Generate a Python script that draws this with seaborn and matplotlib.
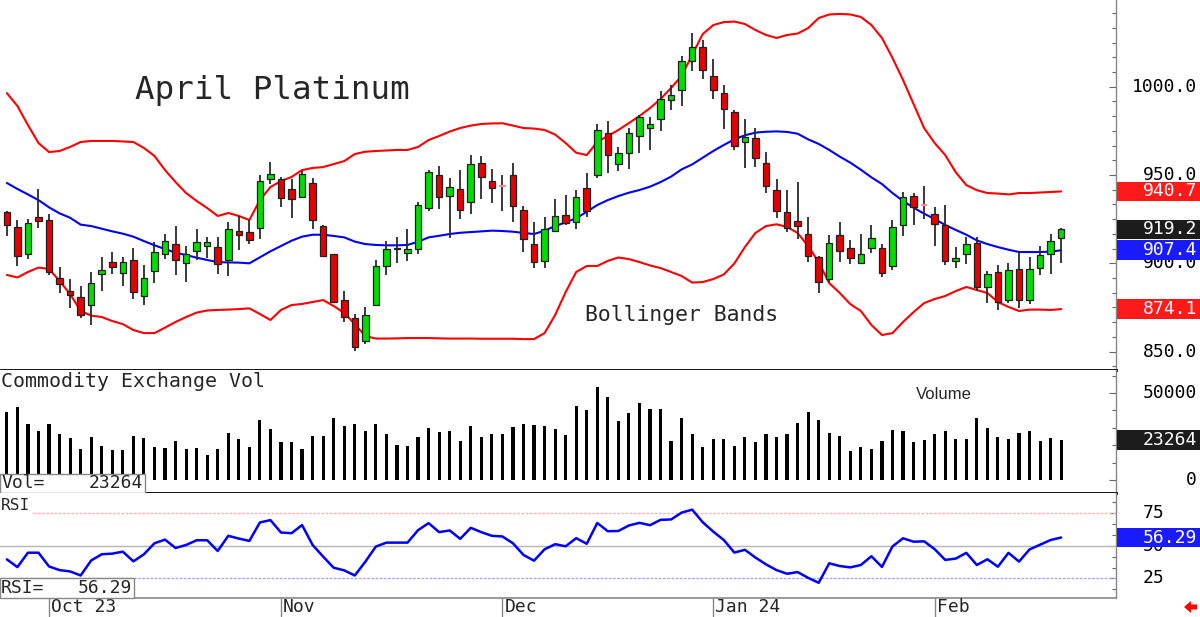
import numpy as np
import matplotlib
matplotlib.use('Agg')
import matplotlib.pyplot as plt
import seaborn as sns
from matplotlib.patches import Rectangle
from matplotlib.ticker import MultipleLocator, FixedLocator

# daily OHLC, April Platinum (Sep 25 2023 .. Feb 2024)
open_ = [929.2, 920.3, 905.4, 926.2, 924.3, 891.8, 884.1, 880.7, 876.2, 893.9,
         900.9, 894.3, 901.9, 881.7, 895.8, 905.2, 910.9, 900.0, 906.8, 910.0,
         909.2, 901.7, 918.5, 917.5, 919.8, 947.7, 947.5, 941.9, 937.3, 945.5,
         920.9, 905.1, 879.0, 868.8, 855.8, 876.4, 898.7, 908.0, 905.6, 908.3,
         931.5, 949.8, 937.9, 941.9, 934.5, 956.6, 946.4, 943.8, 949.8, 930.4,
         910.8, 901.3, 918.1, 927.2, 923.4, 942.5, 950.2, 973.6, 956.0, 962.7,
         971.9, 976.6, 981.5, 992.3, 998.1, 1014.4, 1022.3, 1006.0, 996.6, 985.8,
         968.5, 970.8, 956.6, 941.5, 928.9, 924.0, 916.4, 903.8, 890.9, 916.0,
         908.9, 900.0, 908.5, 908.5, 898.5, 921.5, 938.3, 933.0, 927.9, 921.7,
         901.3, 905.5, 911.7, 886.8, 894.9, 879.2, 896.6, 879.2, 897.5, 905.3,
         914.3]
high = [929.6, 924.5, 925.1, 942.1, 927.9, 897.9, 890.9, 887.1, 895.1, 903.7,
        906.2, 903.4, 908.8, 899.2, 912.0, 916.4, 921.3, 909.8, 919.4, 914.7,
        914.7, 923.2, 926.8, 924.7, 950.2, 957.2, 949.0, 947.9, 952.1, 948.5,
        921.7, 905.2, 884.3, 871.3, 875.4, 901.9, 912.6, 914.9, 919.2, 934.9,
        952.9, 955.1, 948.5, 952.9, 961.1, 960.8, 953.2, 949.8, 956.6, 932.6,
        923.6, 926.2, 936.4, 938.7, 941.5, 951.1, 979.1, 980.8, 966.0, 976.4,
        984.2, 983.0, 997.7, 1001.2, 1017.6, 1030.6, 1026.5, 1015.5, 1001.0, 986.8,
        981.5, 976.4, 963.2, 947.5, 941.5, 946.2, 926.4, 904.1, 916.0, 923.6,
        913.2, 916.6, 921.7, 910.9, 924.5, 940.6, 939.6, 943.8, 932.1, 933.0,
        909.4, 915.1, 914.7, 895.8, 899.0, 900.0, 906.6, 903.4, 910.0, 916.6,
        919.8]
low = [915.6, 898.6, 902.4, 919.8, 893.4, 883.4, 874.5, 868.8, 864.9, 884.5,
       893.7, 887.3, 879.6, 876.4, 888.6, 902.2, 893.4, 889.6, 901.7, 902.8,
       894.1, 892.8, 907.3, 911.1, 913.9, 944.7, 931.9, 925.8, 936.8, 919.6,
       903.7, 877.5, 866.6, 850.3, 854.1, 875.8, 893.6, 900.4, 901.5, 905.3,
       929.4, 930.9, 914.5, 924.9, 927.7, 936.4, 934.2, 929.8, 923.6, 906.6,
       897.5, 897.2, 917.7, 921.5, 919.6, 926.4, 948.3, 951.1, 952.5, 953.6,
       962.3, 964.0, 975.1, 987.0, 989.3, 1008.9, 1004.4, 992.9, 975.9, 964.2,
       953.8, 954.7, 940.0, 925.5, 917.9, 913.6, 900.9, 883.0, 889.6, 900.9,
       899.6, 900.0, 906.0, 892.1, 896.2, 915.7, 921.7, 924.9, 910.0, 899.0,
       897.1, 899.6, 884.3, 877.3, 873.6, 877.7, 874.5, 876.8, 893.4, 894.0,
       900.4]
close = [921.5, 904.3, 922.6, 923.7, 894.9, 888.1, 882.2, 870.5, 889.0, 896.4,
         898.1, 900.5, 883.9, 891.8, 906.4, 912.4, 901.7, 905.1, 911.9, 911.9,
         899.6, 919.2, 915.8, 913.0, 946.4, 950.5, 936.8, 936.6, 950.4, 924.3,
         904.3, 878.1, 869.8, 852.6, 870.7, 898.7, 907.9, 908.4, 907.9, 933.0,
         951.5, 937.5, 943.2, 930.2, 956.4, 948.7, 942.5, 943.8, 932.6, 914.0,
         901.0, 919.4, 926.6, 923.0, 937.4, 929.4, 975.3, 961.1, 962.5, 974.0,
         982.7, 978.7, 993.2, 995.1, 1014.6, 1022.7, 1009.3, 998.1, 987.5, 966.4,
         971.3, 959.4, 943.8, 929.6, 919.8, 921.1, 904.1, 889.6, 911.3, 907.2,
         902.8, 905.1, 914.1, 894.3, 920.7, 937.7, 931.7, 933.0, 922.3, 901.3,
         902.8, 910.7, 886.4, 893.9, 878.3, 896.2, 879.2, 896.6, 904.5, 912.8,
         919.2]

# Bollinger bands as plotted
upper = [996.4, 989.1, 978.3, 968.1, 963.0, 963.6, 965.9, 968.7, 969.3, 969.3,
         969.3, 969.0, 968.7, 965.3, 960.8, 952.8, 946.0, 939.8, 935.3, 931.3,
         926.8, 928.5, 926.8, 924.5, 935.8, 943.2, 946.6, 948.9, 952.8, 954.0,
         954.5, 956.2, 957.9, 961.9, 963.2, 963.6, 963.9, 964.2, 964.2, 965.9,
         969.8, 972.1, 974.6, 976.6, 978.0, 978.9, 979.2, 979.3, 978.0, 976.6,
         976.3, 975.5, 972.9, 968.1, 962.6, 961.3, 968.7, 972.1, 975.5, 979.4,
         983.4, 987.9, 993.0, 999.3, 1006.1, 1018.0, 1029.8, 1034.9, 1036.6, 1036.9,
         1035.5, 1032.1, 1029.3, 1027.6, 1029.3, 1030.1, 1033.2, 1038.9, 1040.9, 1041.2,
         1040.9, 1039.5, 1034.9, 1027.6, 1016.3, 1003.8, 990.2, 976.6, 968.1, 961.3,
         951.6, 944.3, 941.4, 939.8, 939.5, 939.0, 939.8, 939.8, 940.1, 940.4,
         940.7]
middle = [945.5, 942.1, 939.0, 935.8, 931.7, 928.3, 925.8, 921.9, 921.1, 919.6,
          918.1, 916.8, 915.1, 912.6, 910.2, 908.1, 906.0, 904.7, 903.2, 901.9,
          900.7, 900.5, 900.4, 900.0, 903.4, 906.8, 909.8, 912.8, 915.1, 916.2,
          916.2, 915.5, 914.7, 912.3, 910.9, 910.4, 910.2, 910.2, 910.4, 912.2,
          914.7, 915.6, 916.6, 917.3, 917.7, 918.1, 918.5, 918.3, 917.9, 917.2,
          916.6, 918.5, 921.1, 923.2, 925.5, 929.2, 933.0, 935.8, 938.1, 940.0,
          941.5, 943.4, 946.0, 949.1, 953.2, 956.0, 959.8, 963.6, 967.0, 970.2,
          972.5, 974.0, 974.5, 974.7, 974.4, 973.4, 970.2, 967.6, 964.2, 960.4,
          957.0, 953.0, 948.7, 944.9, 939.8, 935.3, 931.5, 928.1, 925.1, 921.7,
          918.9, 916.2, 913.0, 910.9, 909.2, 907.7, 906.4, 906.4, 906.4, 906.6,
          907.4]
lower = [893.4, 892.0, 895.1, 897.6, 896.8, 890.0, 882.6, 873.0, 870.4, 869.6,
         867.3, 865.6, 862.2, 860.5, 860.5, 863.6, 866.8, 869.6, 872.1, 873.3,
         873.6, 873.8, 874.1, 874.5, 871.3, 867.9, 873.6, 876.4, 877.0, 878.1,
         879.2, 875.8, 871.9, 865.6, 858.8, 857.4, 857.4, 857.5, 857.7, 857.7,
         857.7, 857.5, 857.4, 857.4, 857.4, 857.3, 857.3, 857.3, 857.3, 857.1,
         857.1, 860.5, 870.7, 883.7, 895.1, 898.5, 898.5, 901.4, 903.3, 902.4,
         900.7, 898.8, 897.3, 895.1, 892.8, 889.1, 889.4, 891.1, 893.7, 899.9,
         909.2, 917.2, 921.1, 922.1, 920.6, 917.2, 909.8, 900.7, 888.8, 883.2,
         876.9, 873.0, 865.1, 859.4, 860.5, 866.8, 872.4, 877.5, 879.8, 881.5,
         884.3, 886.6, 884.9, 883.2, 878.1, 875.3, 873.0, 873.8, 873.8, 873.6,
         874.1]

volume = [39230, 41660, 32320, 28210, 32320, 26150, 24100, 17930, 24660, 19610,
          17370, 17370, 25220, 24280, 18680, 18120, 22420, 17930, 18120, 14570,
          17750, 26900, 23720, 18680, 34560, 29140, 21860, 21860, 17750, 25220,
          25220, 35490, 31010, 32320, 28210, 32320, 26530, 20170, 19610, 24660,
          30070, 27650, 28210, 22420, 31010, 24660, 26710, 26530, 30450, 31940,
          31380, 31010, 29510, 25590, 42780, 40000, 53500, 47880, 33780, 38420,
          44020, 40730, 40730, 22390, 35520, 26250, 18730, 23360, 23360, 19690,
          24900, 21620, 26640, 24900, 26250, 32820, 38800, 34750, 26830, 25290,
          16410, 19110, 17760, 22390, 28960, 27990, 21620, 22970, 26250, 27990,
          23360, 23360, 35710, 29920, 24900, 23360, 27220, 27990, 22390, 24320,
          23264]

rsi = [39.6, 33.7, 44.7, 44.7, 34.2, 31.4, 30.4, 27.3, 38.8, 43.5,
       44.0, 45.5, 38.1, 43.5, 51.9, 54.7, 48.3, 50.6, 54.2, 54.2,
       46.0, 57.6, 55.5, 53.7, 67.8, 69.6, 60.1, 59.6, 65.8, 50.6,
       41.7, 33.2, 31.2, 27.3, 37.8, 49.4, 52.4, 52.4, 52.4, 61.9,
       67.3, 60.4, 61.7, 55.3, 63.7, 60.4, 57.6, 57.1, 51.9, 43.0,
       38.6, 47.3, 51.2, 49.6, 55.8, 51.5, 67.4, 61.1, 61.3, 65.5,
       67.5, 65.7, 69.8, 70.1, 75.3, 77.6, 68.0, 60.8, 54.4, 44.8,
       46.9, 41.0, 35.8, 31.4, 28.6, 29.9, 25.5, 21.7, 36.6, 34.5,
       33.5, 35.3, 42.0, 33.8, 49.5, 55.7, 53.1, 53.4, 47.4, 39.2,
       40.2, 44.6, 35.3, 39.7, 34.0, 44.6, 37.9, 47.2, 50.8, 54.4,
       56.29]

month_pos = [4, 26, 47, 67, 88]
month_labels = ['Oct 23', 'Nov', 'Dec', 'Jan 24', 'Feb']

sns.set_theme(style='white')
plt.rcParams['font.family'] = ['DejaVu Sans Mono', 'DejaVu Sans']

W, H = 1200, 617
AXW = 1116
fig = plt.figure(figsize=(12, 6.17), dpi=100)


def px_axes(top, bottom):
    return fig.add_axes([0, 1 - bottom / H, AXW / W, (bottom - top) / H])


ax_p = px_axes(0, 370)
ax_v = px_axes(370, 493)
ax_r = px_axes(493, 598)

idx = np.arange(len(close))
o, h, l, c = (np.array(a) for a in (open_, high, low, close))
up = c > o
dn = c < o
dj = c == o

# candles
ax_p.vlines(idx, l, h, color='#2a2a2a', lw=1.3, zorder=2)
ax_p.bar(idx[up], (c - o)[up], bottom=o[up], width=0.62, color='#00dd00',
         edgecolor='#202020', lw=0.9, zorder=3)
ax_p.bar(idx[dn], (o - c)[dn], bottom=c[dn], width=0.62, color='#e60000',
         edgecolor='#202020', lw=0.9, zorder=3)
ax_p.hlines(c[dj], idx[dj] - 0.3, idx[dj] + 0.3, color='#ff8a8a', lw=1.6, zorder=3)

# bollinger bands
sns.lineplot(x=idx, y=upper, ax=ax_p, color='#ff0000', lw=1.5, zorder=1)
sns.lineplot(x=idx, y=lower, ax=ax_p, color='#ff0000', lw=1.5, zorder=1)
sns.lineplot(x=idx, y=middle, ax=ax_p, color='#0000ff', lw=1.5, zorder=1)

# volume
sns.barplot(x=idx, y=volume, ax=ax_v, native_scale=True, width=0.3,
            color='black', saturation=1, linewidth=0, errorbar=None)

# rsi
ax_r.axhline(75, color='#ffb3b3', lw=1, ls=(0, (2, 1)), zorder=1)
ax_r.axhline(50, color='#b5b5b5', lw=1, zorder=1)
ax_r.axhline(25, color='#a8a8ff', lw=1, ls=(0, (2, 1)), zorder=1)
sns.lineplot(x=idx, y=rsi, ax=ax_r, color='#0000ff', lw=1.8, zorder=3)

for ax in (ax_p, ax_v, ax_r):
    ax.set_xlim(-0.65, 105.2)
    ax.set_xlabel('')
    ax.set_ylabel('')
    ax.set_xticks([])
    ax.set_facecolor('white')
    for s in ('left', 'top'):
        ax.spines[s].set_visible(False)
    ax.spines['right'].set_color('#888888')
    ax.spines['right'].set_linewidth(1)
    ax.yaxis.tick_right()
    ax.tick_params(axis='y', which='both', direction='in', labelright=False,
                   labelleft=False, color='#666666', width=0.8)
    ax.tick_params(axis='y', which='major', length=5)
    ax.tick_params(axis='y', which='minor', length=3)

ax_p.spines['bottom'].set_color('black')
ax_p.spines['bottom'].set_linewidth(2)
ax_v.spines['bottom'].set_color('black')
ax_v.spines['bottom'].set_linewidth(2)
ax_r.spines['bottom'].set_color('#888888')
ax_r.spines['bottom'].set_linewidth(1.2)

ax_p.set_ylim(839.6, 1049.1)
ax_v.set_ylim(-7470, 63200)
ax_r.set_ylim(10.1, 90.3)

ax_p.yaxis.set_major_locator(FixedLocator([850, 900, 950, 1000]))
ax_p.yaxis.set_minor_locator(MultipleLocator(50 / 6))
ax_v.yaxis.set_major_locator(FixedLocator([0, 50000]))
ax_v.yaxis.set_minor_locator(MultipleLocator(10000))
ax_r.yaxis.set_major_locator(FixedLocator([25, 50, 75]))
ax_r.yaxis.set_minor_locator(MultipleLocator(25 / 3))


def rtext(ax, y, s, x=1197, ha='right', color='black', size=13, z=4):
    ax.text(x / AXW, y, s, transform=ax.get_yaxis_transform(), ha=ha,
            va='center', color=color, fontsize=size, clip_on=False, zorder=z)


def vbox(ax, y, s, fc, hgt):
    ax.add_patch(Rectangle((1117 / AXW, y - hgt / 2), 83 / AXW, hgt,
                           transform=ax.get_yaxis_transform(), facecolor=fc,
                           edgecolor='none', clip_on=False, zorder=5))
    rtext(ax, y, s, color='white', z=6)


for v in (1000, 950, 900, 850):
    rtext(ax_p, v, f'{v:.1f}')
vbox(ax_p, upper[-1], f'{upper[-1]:.1f}', '#ff1a1a', 11.2)
vbox(ax_p, close[-1], f'{close[-1]:.1f}', '#1c1c1c', 11.2)
vbox(ax_p, middle[-1], f'{middle[-1]:.1f}', '#1a1aff', 11.2)
vbox(ax_p, lower[-1], f'{lower[-1]:.1f}', '#ff1a1a', 11.2)

rtext(ax_v, 50000, '50000')
rtext(ax_v, 0, '0')
vbox(ax_v, volume[-1], f'{volume[-1]}', '#1c1c1c', 11500)

for v in (75, 50, 25):
    rtext(ax_r, v, f'{v}', x=1143, ha='left')
vbox(ax_r, rsi[-1], f'{rsi[-1]:.2f}', '#1a1aff', 14.5)

# titles and captions
ax_p.text(135 / AXW, (370 - 91) / 370, 'April Platinum', transform=ax_p.transAxes,
          fontsize=23.4, va='center', ha='left')
ax_p.text(585 / AXW, (370 - 315) / 370, 'Bollinger Bands', transform=ax_p.transAxes,
          fontsize=15.4, va='center', ha='left')
ax_v.text(1 / AXW, (493 - 382) / 123, 'Commodity Exchange Vol', transform=ax_v.transAxes,
          fontsize=14.3, va='center', ha='left')
ax_v.text(916 / AXW, (493 - 395) / 123, 'Volume', transform=ax_v.transAxes,
          fontsize=12, va='center', ha='left', family='Liberation Sans')
ax_r.text(1 / AXW, (598 - 506) / 105, 'RSI', transform=ax_r.transAxes, fontsize=11.6,
          va='center', ha='left', zorder=4,
          bbox=dict(facecolor='white', edgecolor='none', pad=1))

# readout boxes on the left
ax_v.add_patch(Rectangle((0, 0), 145 / AXW, 19 / 123, transform=ax_v.transAxes,
                         facecolor='white', edgecolor='#888888', lw=1, zorder=5,
                         clip_on=False))
ax_v.text(1 / AXW, 9.5 / 123, 'Vol=', transform=ax_v.transAxes, fontsize=13,
          va='center', ha='left', zorder=6)
ax_v.text(143 / AXW, 9.5 / 123, f'{volume[-1]}', transform=ax_v.transAxes, fontsize=13,
          va='center', ha='right', zorder=6)
ax_r.add_patch(Rectangle((0, 0.5 / 105), 134 / AXW, 19.5 / 105, transform=ax_r.transAxes,
                         facecolor='white', edgecolor='#888888', lw=1, zorder=5,
                         clip_on=False))
ax_r.text(1 / AXW, 10 / 105, 'RSI=', transform=ax_r.transAxes, fontsize=13,
          va='center', ha='left', zorder=6)
ax_r.text(132 / AXW, 10 / 105, f'{rsi[-1]:.2f}', transform=ax_r.transAxes, fontsize=13,
          va='center', ha='right', zorder=6)

# date axis
btr = ax_r.get_xaxis_transform()
for m, lab in zip(month_pos, month_labels):
    ax_r.plot([m, m], [0, -19 / 105], transform=btr, color='#888888', lw=1,
              clip_on=False)
    ax_r.text(m + 0.2, -9 / 105, lab, transform=btr, fontsize=13,
              va='center', ha='left', clip_on=False)

fig.patches.append(plt.Polygon([[1184 / W, 1 - 607 / H], [1191 / W, 1 - 601 / H],
                                [1191 / W, 1 - 604.5 / H], [1197 / W, 1 - 604.5 / H],
                                [1197 / W, 1 - 609.5 / H], [1191 / W, 1 - 609.5 / H],
                                [1191 / W, 1 - 613 / H]],
                               closed=True, transform=fig.transFigure,
                               facecolor='#ff0000', edgecolor='none'))

fig.savefig('out.png', dpi=100, facecolor='white')
